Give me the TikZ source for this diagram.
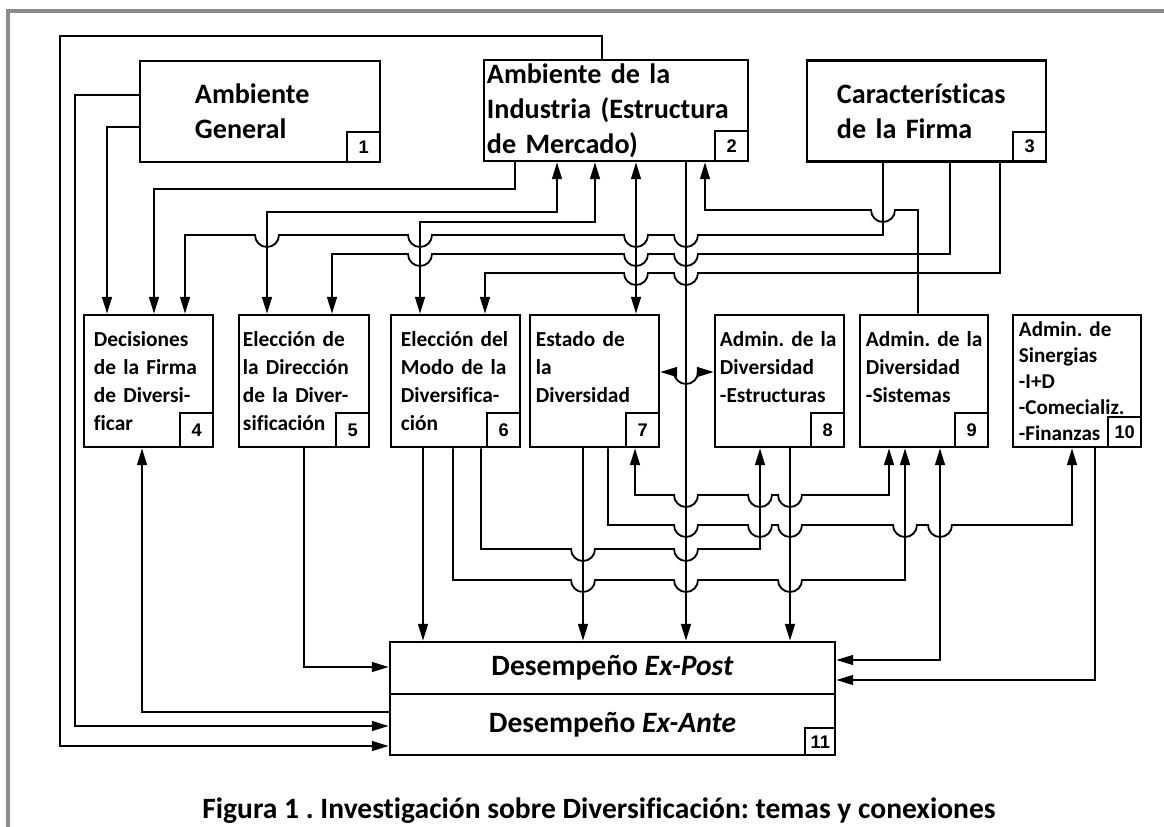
\documentclass[tikz,border=0pt]{standalone}
\usepackage{fontspec}
\setmainfont{Carlito}[Ligatures=NoCommon]
\newfontfamily\numfont{Liberation Sans}
\usetikzlibrary{arrows.meta}
\definecolor{framegray}{HTML}{8C8C8C}
\newcommand{\hop}[2]{-- ({#1-12},#2) arc[start angle=180,end angle=360,radius=0.3cm]}
\frenchspacing

\begin{document}
\begin{tikzpicture}[x=0.025cm,y=-0.025cm,
  box/.style={draw, line width=1.8pt, inner sep=0pt, align=left, font=\bfseries\fontsize{15.2}{19.9}\selectfont, minimum height=3.3cm},
  bigbox/.style={box, font=\bfseries\fontsize{20}{24.8}\selectfont, minimum height=2.525cm},
  perfbox/.style={box, align=center, font=\bfseries\fontsize{21}{24}\selectfont, minimum width=11.125cm},
  numbox/.style={draw, line width=1.5pt, inner sep=0pt, minimum width=0.825cm, minimum height=0.85cm, font=\numfont\bfseries\fontsize{13}{15}\selectfont},
  wire/.style={line width=1.3pt},
  arr/.style={wire, -{Triangle[length=12pt,width=7pt]}},
  rarr/.style={wire, {Triangle[length=12pt,width=7pt]}-},
  barr/.style={wire, {Triangle[length=12pt,width=7pt]}-{Triangle[length=12pt,width=7pt]}}]
  \useasboundingbox (0,0) rectangle (1164,827);
  \draw[framegray, line width=2.2pt] (8,827) -- (8,11) -- (1164,11);

  \node[bigbox, minimum width=6cm, text width=3.25cm] (b1) at (260,111.5) {Ambiente\\General};
  \node[bigbox, minimum width=6.6cm, text width=6.45cm] (b2) at (616,110.5) {Ambiente de~la\\Industria~(Estructura\\de Mercado)};
  \node[bigbox, minimum width=5.975cm, text width=4.475cm] (b3) at (926.5,111) {Características\\de la Firma};
  \node[numbox, minimum height=0.75cm, anchor=south east] (n1) at (b1.south east) {1};
  \node[numbox, minimum height=0.75cm, anchor=south east] (n2) at (b2.south east) {2};
  \node[numbox, minimum height=0.75cm, anchor=south east] (n3) at (b3.south east) {3};

  \node[box, minimum width=3.225cm, text width=2.725cm] (b4) at (148.5,381) {Decisiones\\de~la~Firma\\de~Diversi-\\ficar};
  \node[box, minimum width=3.25cm, text width=3.05cm] (b5) at (304,381) {Elección~de\\la~Dirección\\de~la~Diver-\\sificación};
  \node[box, minimum width=3.225cm, text width=2.725cm] (b6) at (455.5,381) {Elección~del\\Modo~de~la\\Diversifica-\\ción};
  \node[box, minimum width=3.225cm, text width=2.925cm] (b7) at (594.5,381) {Estado~de\\la\\Diversidad\\\phantom{X}};
  \node[box, minimum width=3.225cm, text width=2.975cm] (b8) at (779.5,381) {Admin.~de~la\\Diversidad\\-Estructuras\\\phantom{X}};
  \node[box, minimum width=3.2cm, text width=2.9cm] (b9) at (924,381) {Admin.~de~la\\Diversidad\\-Sistemas\\\phantom{X}};
  \node[box, minimum width=3.2cm, text width=2.9cm, font=\bfseries\fontsize{15}{18.4}\selectfont] (b10) at (1077,381) {Admin.~de\\Sinergias\\-I+D\\-Comecializ.\\-Finanzas};
  \foreach \i in {4,...,9}
    \node[numbox, anchor=south east] (n\i) at (b\i.south east) {\i};
  \node[numbox, minimum height=0.75cm, anchor=south east] (n10) at (b10.south east) {10};

  \node[perfbox, minimum height=1.3cm] (post) at (612.5,668) {Desempeño \textit{Ex-Post}};
  \node[perfbox, minimum height=1.525cm] (ante) at (612.5,724.5) {Desempeño \textit{Ex-Ante}};
  \node[numbox, minimum width=0.75cm, minimum height=0.675cm, anchor=south east] (n11) at (ante.south east) {11};

  \node[font=\bfseries\fontsize{21}{24}\selectfont, anchor=base] (cap) at (599,818) {Figura 1 . Investigación sobre Diversificación: temas y conexiones};

  \draw[arr] (b2.north -| 602,0) |- (60,36) |- (ante.west |- 0,746);
  \draw[arr] (b1.west |- 0,95) -| (75,726) -- (ante.west |- 0,726);
  \draw[arr] (b1.west |- 0,127) -| (b4.north -| 107,0);
  \draw[arr] (b2.south -| 515,0) |- (154,189) -- (b4.north -| 154,0);
  \draw[barr] (b5.north -| 267,0) |- (557,212) -- (b2.south -| 557,0);
  \draw[barr] (b6.north -| 420,0) |- (595,222) -- (b2.south -| 595,0);
  \draw[rarr] (b4.north -| 185,0) -- (185,235) \hop{267}{235} \hop{420}{235} \hop{636}{235} \hop{686}{235} -- (883,235) -- (b3.south -| 883,0);
  \draw[rarr] (b5.north -| 332,0) -- (332,254) \hop{420}{254} \hop{636}{254} \hop{686}{254} -- (950,254) -- (b3.south -| 950,0);
  \draw[rarr] (b6.north -| 485,0) -- (485,273) \hop{636}{273} \hop{686}{273} -- (1000,273) -- (b3.south -| 1000,0);
  \draw[barr] (b2.south -| 636,0) -- (b7.north -| 636,0);
  \draw[arr] (b2.south -| 686,0) -- (post.north -| 686,0);
  \draw[rarr] (b2.south -| 705,0) -- (705,210) \hop{883}{210} -- (918,210) -- (b9.north -| 918,0);
  \draw[barr] (b7.east |- 0,372) \hop{686}{372} -- (b8.west |- 0,372);

  \draw[rarr] (b4.south -| 142,0) |- (ante.west |- 0,712);
  \draw[arr] (b5.south -| 304,0) |- (post.west |- 0,667);
  \draw[arr] (b6.south -| 423,0) -- (post.north -| 423,0);
  \draw[arr] (b6.south -| 453,0) -- (453,580) \hop{583}{580} \hop{686}{580} \hop{790}{580} -- (905,580) -- (b9.south -| 905,0);
  \draw[arr] (b6.south -| 481,0) -- (481,549) \hop{583}{549} \hop{686}{549} -- (760,549) -- (b8.south -| 760,0);
  \draw[arr] (b7.south -| 583,0) -- (post.north -| 583,0);
  \draw[arr] (b7.south -| 608,0) -- (608,525) \hop{686}{525} \hop{760}{525} \hop{790}{525} \hop{905}{525} \hop{940}{525} -- (1072,525) -- (b10.south -| 1072,0);
  \draw[barr] (b7.south -| 635,0) -- (635,495) \hop{686}{495} \hop{760}{495} \hop{790}{495} -- (889,495) -- (b9.south -| 889,0);
  \draw[arr] (b8.south -| 790,0) -- (post.north -| 790,0);
  \draw[barr] (post.east |- 0,660) -| (b9.south -| 940,0);
  \draw[arr] (b10.south -| 1095,0) |- (post.east |- 0,680);
\end{tikzpicture}
\end{document}
